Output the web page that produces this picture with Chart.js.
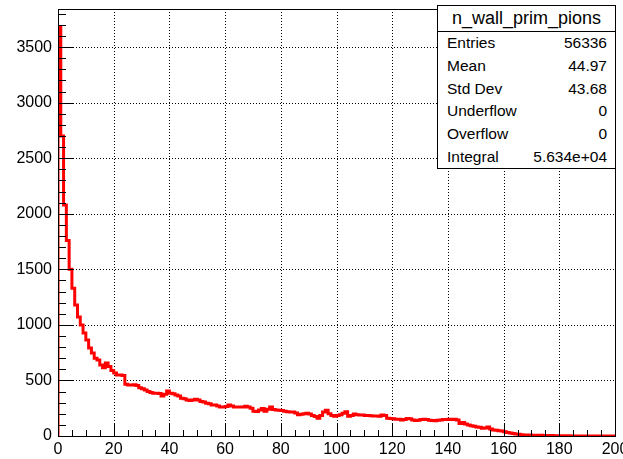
<!DOCTYPE html>
<html>
<head>
<meta charset="utf-8">
<script src="https://cdn.jsdelivr.net/npm/chart.js@4/dist/chart.umd.min.js"></script>
<style>
    body { margin: 0; background: #fff; }
    #wrap { position: relative; width: 623px; height: 459px; overflow: hidden; }
    #stats {
        position: absolute; left: 437px; top: 5px; width: 177px; height: 162px;
        border: 1px solid #000; background: #fff;
        font-family: "Liberation Sans", Arial, sans-serif; color: #000;
    }
    #stats .titulo { height: 25px; line-height: 25px; text-align: center; font-size: 18px; border-bottom: 1px solid #000; }
    #stats .linha { height: 22.8px; line-height: 22.8px; font-size: 15.5px; padding: 0 8px 0 9px; display: flex; justify-content: space-between; }
</style>
</head>
<body>
<div id="wrap">
    <canvas id="graficoPions" width="623" height="459"></canvas>
    <div id="stats">
        <div class="titulo">n_wall_prim_pions</div>
        <div class="linha"><span>Entries</span><span>56336</span></div>
        <div class="linha"><span>Mean</span><span>44.97</span></div>
        <div class="linha"><span>Std Dev</span><span>43.68</span></div>
        <div class="linha"><span>Underflow</span><span>0</span></div>
        <div class="linha"><span>Overflow</span><span>0</span></div>
        <div class="linha"><span>Integral</span><span>5.634e+04</span></div>
    </div>
</div>
<script>
// Histograma: 200 bins de largura 1, de 0 a 200
const xMin = 0;
const xMax = 200;
const yMax = 3843;

// conteudo de cada bin
const contagens = [
    0, 3680, 2700, 2080, 1760, 1500, 1330, 1180, 1070, 1000,
    926, 863, 791, 746, 700, 683, 640, 615, 656, 625,
    590, 566, 550, 548, 545, 465, 460, 460, 462, 455,
    435, 425, 415, 400, 392, 385, 385, 383, 360, 375,
    405, 385, 380, 370, 360, 340, 335, 325, 320, 325,
    330, 325, 310, 305, 295, 290, 280, 278, 270, 262,
    262, 265, 278, 270, 262, 262, 260, 262, 268, 262,
    250, 222, 220, 235, 248, 222, 240, 262, 238, 235,
    232, 230, 222, 218, 215, 215, 208, 192, 195, 200,
    205, 198, 185, 175, 160, 185, 215, 232, 200, 185,
    178, 185, 192, 205, 218, 178, 185, 198, 192, 188,
    188, 185, 185, 182, 180, 180, 178, 188, 185, 160,
    158, 155, 150, 150, 145, 148, 158, 155, 145, 140,
    142, 148, 150, 148, 142, 140, 138, 142, 145, 148,
    148, 150, 148, 150, 145, 112, 122, 108, 100, 92,
    88, 80, 78, 70, 72, 80, 62, 55, 52, 48,
    46, 38, 32, 28, 22, 18, 15, 12, 10, 9,
    8, 7, 6, 5, 6, 4, 4, 3, 4, 3,
    2, 2, 2, 1, 2, 1, 1, 0, 1, 0,
    0, 0, 1, 0, 0, 0, 0, 0, 0, 0
];

// rotulos dos eixos
const ticksX = [0, 20, 40, 60, 80, 100, 120, 140, 160, 180, 200];
const ticksY = [0, 500, 1000, 1500, 2000, 2500, 3000, 3500];

// ticks menores estilo ROOT
const passoMenorX = 5;
const passoMenorY = 100;

const fonteEixo = { family: '"Liberation Sans", Arial, sans-serif', size: 16 };

// Plugin para desenhar grade pontilhada, moldura e ticks para dentro
const estiloRoot = {
    id: 'estiloRoot',
    beforeDatasetsDraw(chart) {
        const { ctx, chartArea: a, scales: { x, y } } = chart;
        ctx.save();
        ctx.strokeStyle = '#000';
        ctx.lineWidth = 1;
        ctx.setLineDash([1, 2]);
        ticksX.forEach(v => {
            if (v <= xMin || v >= xMax) return;
            let px = Math.round(x.getPixelForValue(v)) + 0.5;
            ctx.beginPath(); ctx.moveTo(px, a.top); ctx.lineTo(px, a.bottom); ctx.stroke();
        });
        ticksY.forEach(v => {
            if (v <= 0) return;
            let py = Math.round(y.getPixelForValue(v)) + 0.5;
            ctx.beginPath(); ctx.moveTo(a.left, py); ctx.lineTo(a.right, py); ctx.stroke();
        });
        ctx.restore();
    },
    afterDatasetsDraw(chart) {
        const { ctx, chartArea: a, scales: { x, y } } = chart;
        ctx.save();
        ctx.strokeStyle = '#000';
        ctx.lineWidth = 1;
        ctx.strokeRect(a.left + 0.5, a.top + 0.5, a.right - a.left, a.bottom - a.top);
        ctx.beginPath();
        for (let v = xMin; v <= xMax; v += passoMenorX) {
            let px = Math.round(x.getPixelForValue(v)) + 0.5;
            let len = ticksX.includes(v) ? 13 : 6;
            ctx.moveTo(px, a.bottom); ctx.lineTo(px, a.bottom - len);
        }
        for (let v = 0; v <= yMax; v += passoMenorY) {
            let py = Math.round(y.getPixelForValue(v)) + 0.5;
            let len = ticksY.includes(v) ? 16 : 8;
            ctx.moveTo(a.left, py); ctx.lineTo(a.left + len, py);
        }
        ctx.stroke();
        ctx.restore();
    }
};

function criarHistograma() {
    let ctx = document.getElementById('graficoPions').getContext('2d');

    let pontos = contagens.map((v, i) => ({ x: xMin + i, y: v }));
    pontos.push({ x: xMax, y: contagens[contagens.length - 1] });

    new Chart(ctx, {
        type: 'line',
        data: {
            datasets: [{
                label: 'n_wall_prim_pions',
                data: pontos,
                stepped: 'after',
                borderColor: '#ff0000',
                borderWidth: 3,
                pointRadius: 0,
                fill: false
            }]
        },
        options: {
            responsive: false,
            animation: false,
            layout: { padding: { top: 9, right: 8, left: 0, bottom: 0 } },
            plugins: { legend: { display: false }, tooltip: { enabled: false } },
            scales: {
                x: {
                    type: 'linear', min: xMin, max: xMax,
                    grid: { display: false, drawTicks: false },
                    border: { display: false },
                    ticks: { color: '#000', font: fonteEixo, maxRotation: 0, padding: 4, callback: (v) => String(v) },
                    afterBuildTicks: (s) => { s.ticks = ticksX.map(v => ({ value: v })); },
                    afterFit: (s) => { s.height = 23; s.paddingLeft = 0; s.paddingRight = 0; }
                },
                y: {
                    min: 0, max: yMax,
                    grid: { display: false, drawTicks: false },
                    border: { display: false },
                    ticks: { color: '#000', font: fonteEixo, padding: 6, callback: (v) => String(v) },
                    afterBuildTicks: (s) => { s.ticks = ticksY.map(v => ({ value: v })); },
                    afterFit: (s) => { s.width = 58; s.paddingTop = 0; s.paddingBottom = 0; }
                }
            }
        },
        plugins: [estiloRoot]
    });
}

document.addEventListener('DOMContentLoaded', () => {
    criarHistograma();
});
</script>
</body>
</html>
